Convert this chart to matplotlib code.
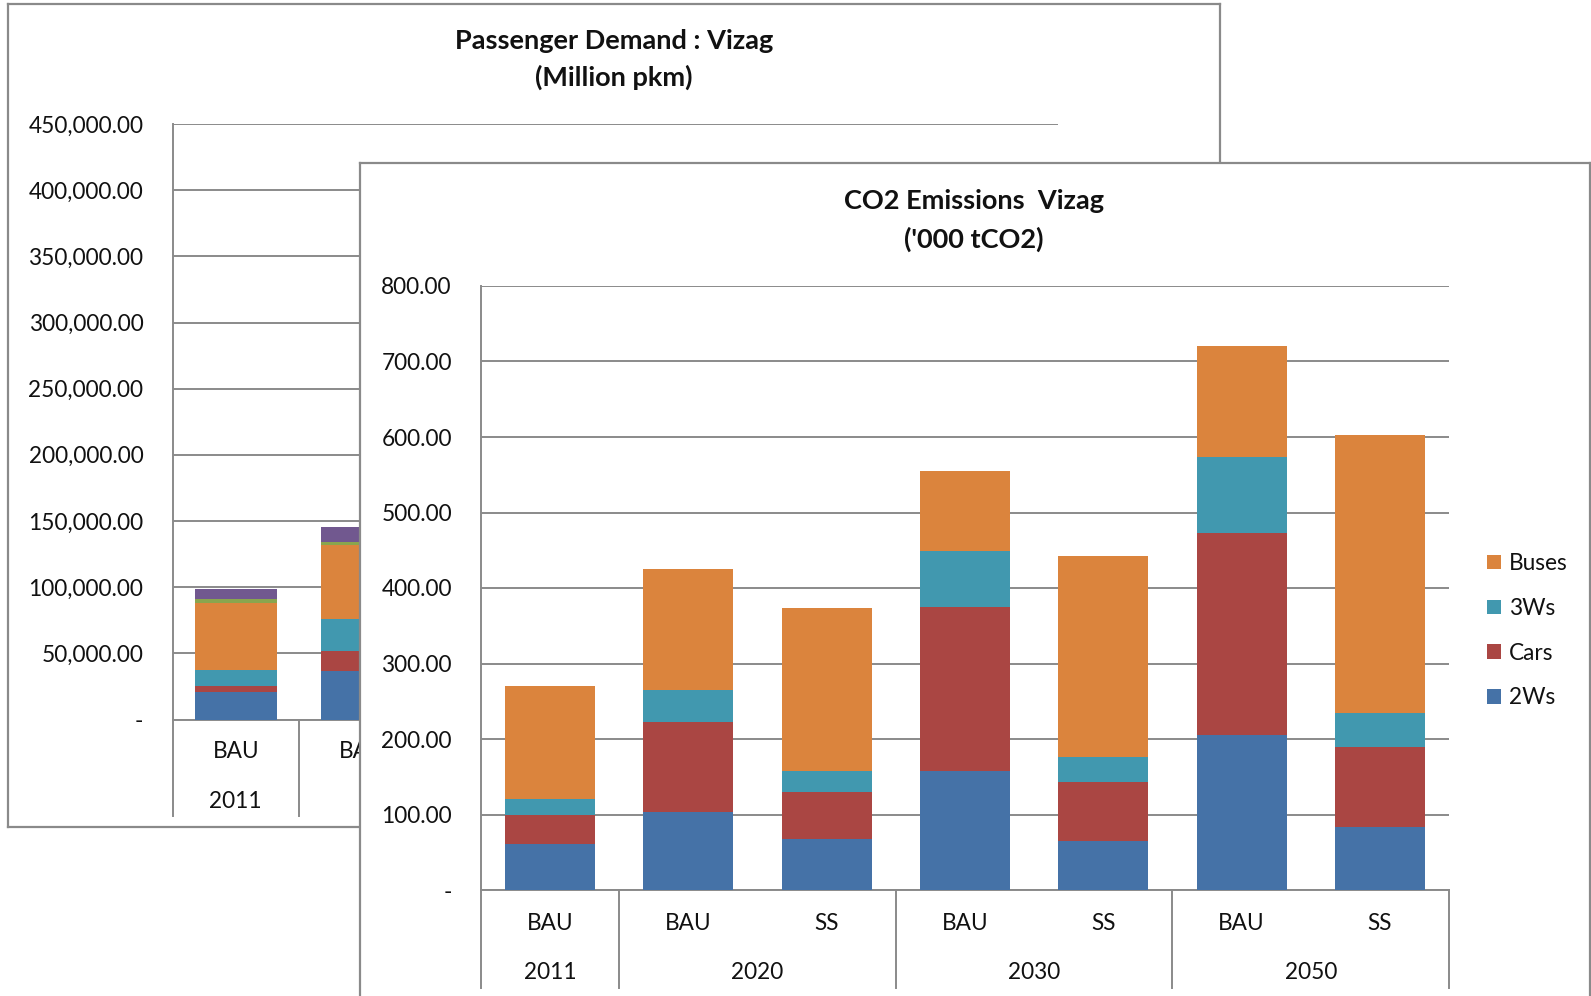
import matplotlib
matplotlib.use("Agg")
import matplotlib.pyplot as plt
import numpy as np

plt.rcParams['font.family'] = ['Lato', 'DejaVu Sans']

# ---------------- data ----------------
scenarios = ["BAU", "BAU", "SS", "BAU", "SS", "BAU", "SS"]
years = ["2011", "2020", "2030", "2050"]
year_spans = [(0, 0), (1, 2), (3, 4), (5, 6)]

# CO2 emissions ('000 tCO2), stacked bottom to top
co2_2ws = [60.5, 103.5, 67.0, 157.0, 64.5, 205.5, 83.0]
co2_cars = [39.0, 118.5, 63.0, 218.0, 78.0, 267.5, 106.5]
co2_3ws = [21.5, 43.0, 27.0, 74.0, 33.5, 101.0, 45.5]
co2_buses = [149.0, 160.0, 217.0, 106.0, 266.0, 146.0, 367.0]

# Passenger demand (million pkm) for the first two categories
pkm_2ws = [20700, 36800]
pkm_cars = [4600, 14600]
pkm_3ws = [12300, 24500]
pkm_buses = [50600, 56000]
pkm_other1 = [3100, 2300]
pkm_other2 = [7600, 11500]

c_2ws = "#4572a7"
c_cars = "#aa4643"
c_3ws = "#4198af"
c_buses = "#db843d"
c_other1 = "#89a54e"
c_other2 = "#71588f"
grid_c = "#8a8a8a"

FS = 16.3     # tick / category / legend text
TFS = 19.5    # titles

W, H = 1591, 996
fig = plt.figure(figsize=(W / 100, H / 100), dpi=100)
fig.patch.set_facecolor("white")


def rect(x0, y0, x1, y1):
    """Pixel box (from top-left) -> figure fraction rect."""
    return [x0 / W, 1 - y1 / H, (x1 - x0) / W, (y1 - y0) / H]


def panel(x0, y0, x1, y1):
    ax = fig.add_axes(rect(x0, y0, x1, y1))
    ax.set_facecolor("white")
    ax.set_xticks([])
    ax.set_yticks([])
    for s in ax.spines.values():
        s.set_color(grid_c)
        s.set_linewidth(1.6)
    return ax


def style_plot(ax, ymax, step, fmt):
    ax.set_xlim(-0.5, 6.5)
    ax.set_ylim(0, ymax)
    ticks = np.arange(0, ymax + step / 2, step)
    ax.set_yticks(ticks)
    ax.set_yticklabels(["-" if t == 0 else fmt.format(t) for t in ticks],
                       fontsize=FS, color="#111111")
    ax.tick_params(axis="y", length=0, pad=21)
    ax.tick_params(axis="x", length=0, labelbottom=False)
    ax.set_xticks([])
    ax.grid(axis="y", color=grid_c, linewidth=1.4)
    ax.set_axisbelow(True)
    for s in ["top", "right"]:
        ax.spines[s].set_visible(False)
    for s in ["left", "bottom"]:
        ax.spines[s].set_color(grid_c)
        ax.spines[s].set_linewidth(1.4)
    ax.set_facecolor("none")


def category_axis(ax, n_shown, row1_y, row2_y, line_bottom):
    tr = ax.get_xaxis_transform()
    for i in range(n_shown):
        ax.text(i, row1_y, scenarios[i], transform=tr, ha="center",
                va="center", fontsize=FS, color="#111111", clip_on=False)
    for yr, (a, b) in zip(years, year_spans):
        if a < n_shown:
            ax.text((a + b) / 2, row2_y, yr, transform=tr, ha="center",
                    va="center", fontsize=FS, color="#111111", clip_on=False)
    for xb in [-0.5, 0.5, 2.5, 4.5, 6.5]:
        ax.plot([xb, xb], [0, line_bottom], transform=tr, color=grid_c,
                linewidth=1.4, clip_on=False)


# ---------------- back chart: passenger demand ----------------
panel(8, 4, 1220, 827)
ax1 = fig.add_axes(rect(172.5, 124, 1058, 719.5))
style_plot(ax1, 450000, 50000, "{:,.2f}")
x1 = np.arange(len(pkm_2ws))
bw = 0.65
bottom = np.zeros(len(x1))
for vals, col in [(pkm_2ws, c_2ws), (pkm_cars, c_cars), (pkm_3ws, c_3ws),
                  (pkm_buses, c_buses), (pkm_other1, c_other1),
                  (pkm_other2, c_other2)]:
    ax1.bar(x1, vals, bw, bottom=bottom, color=col, edgecolor="none", zorder=3)
    bottom += np.array(vals)
h1 = 719.5 - 124
category_axis(ax1, 2, -(752 - 719.5) / h1, -(801 - 719.5) / h1,
              -(816 - 719.5) / h1)
fig.text(614 / W, 1 - 41 / H, "Passenger Demand : Vizag", ha="center",
         va="center", fontsize=TFS, fontweight="bold", color="#111111")
fig.text(614 / W, 1 - 77 / H, "(Million pkm)", ha="center",
         va="center", fontsize=TFS, fontweight="bold", color="#111111")

# ---------------- front chart: CO2 emissions ----------------
panel(360, 163, 1590, 1010)
ax2 = fig.add_axes(rect(481, 286, 1449, 890))
style_plot(ax2, 800, 100, "{:,.2f}")
x2 = np.arange(len(scenarios))
bottom = np.zeros(len(x2))
handles = []
for vals, col, name in [(co2_2ws, c_2ws, "2Ws"), (co2_cars, c_cars, "Cars"),
                        (co2_3ws, c_3ws, "3Ws"), (co2_buses, c_buses, "Buses")]:
    b = ax2.bar(x2, vals, bw, bottom=bottom, color=col, edgecolor="none",
                zorder=3, label=name)
    handles.append(b)
    bottom += np.array(vals)
h2 = 890 - 286
category_axis(ax2, 7, -(923 - 890) / h2, -(972 - 890) / h2,
              -(988 - 890) / h2)
fig.text(974 / W, 1 - 201 / H, "CO2 Emissions  Vizag", ha="center",
         va="center", fontsize=TFS, fontweight="bold", color="#111111")
fig.text(974 / W, 1 - 239 / H, "('000 tCO2)", ha="center",
         va="center", fontsize=TFS, fontweight="bold", color="#111111")

leg = fig.legend(handles[::-1], ["Buses", "3Ws", "Cars", "2Ws"],
                 loc="upper left", bbox_to_anchor=(1478 / W, 1 - 544 / H),
                 frameon=False, fontsize=FS, handlelength=0.62,
                 handleheight=0.62, handletextpad=0.35, labelspacing=1.05,
                 borderaxespad=0)
for t in leg.get_texts():
    t.set_color("#111111")

fig.savefig("out.png", dpi=100, facecolor="white")
